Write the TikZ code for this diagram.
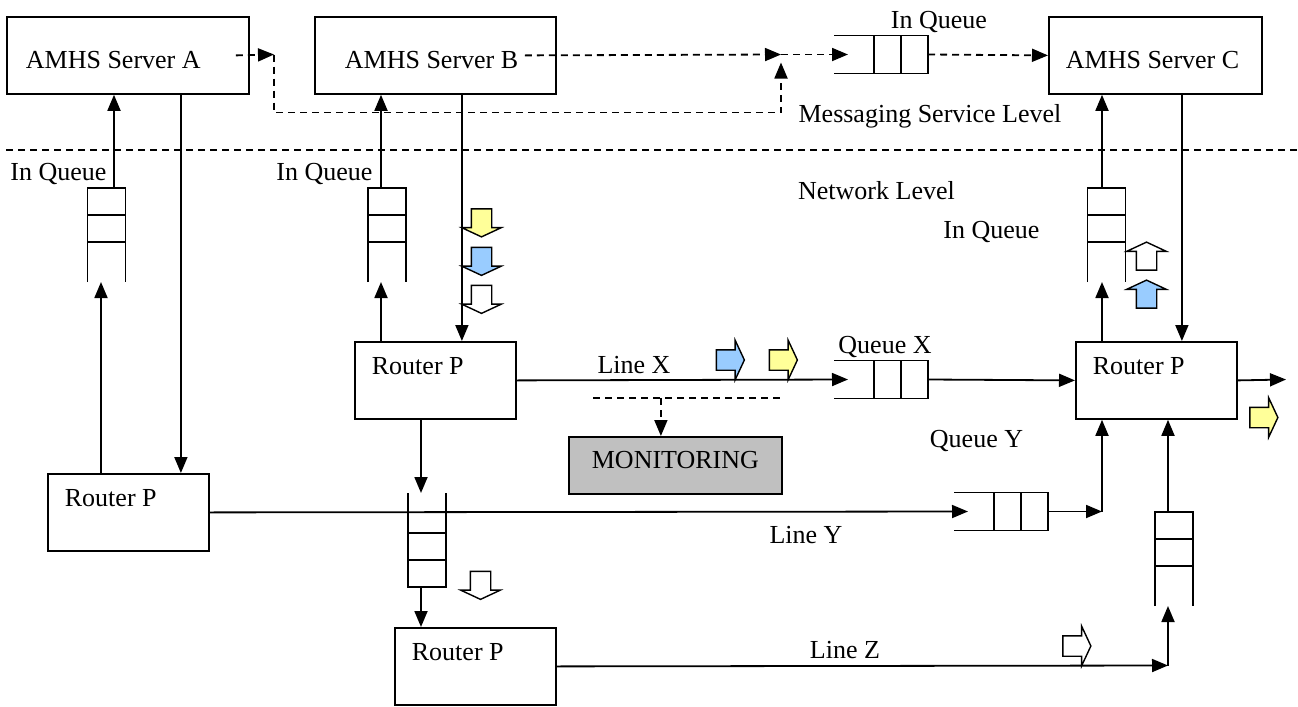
\documentclass[tikz,border=0pt]{standalone}
\usepackage{fontspec}
\setmainfont{Liberation Serif}
\usetikzlibrary{arrows.meta}
\usetikzlibrary{shapes.arrows}
\definecolor{msgyellow}{HTML}{FFFF99}
\definecolor{msgblue}{HTML}{99CCFF}
\definecolor{monfill}{HTML}{C0C0C0}
\tikzset{
	server/.style={draw, anchor=north west, inner ysep=0pt, align=flush left, text height=26pt, text depth=12.5pt},
	router/.style={draw, anchor=north west, inner ysep=0pt, inner xsep=8.5pt, text width=63.5pt, align=flush left, text height=16.5pt, text depth=22pt},
	monitor/.style={draw, fill=monfill, anchor=north west, inner sep=0pt, minimum width=106.5pt, text height=16pt, text depth=12.5pt},
	lbl/.style={anchor=base, inner sep=0pt},
	arr/.style={-{Triangle[length=8pt,width=6.5pt]}},
	dsh/.style={dash pattern=on 3.5pt off 2.5pt},
	fat/.style={shape=single arrow, draw, line width=0.7pt, inner sep=0pt, text height=9.5pt, text depth=0pt, minimum height=14pt, single arrow head extend=4.75pt, single arrow tip angle=130},
	queue/.pic={
		\draw (0,-19) -- (94,-19) -- (94,19) -- (0,19);
		\draw (40,-19) -- (40,19) (67,-19) -- (67,19);
		\coordinate (-open) at (0,0);
		\coordinate (-mouth) at (14,0);
		\coordinate (-closed) at (94,0);
	}
}
\begin{document}
\begin{tikzpicture}[x=0.5pt, y=-0.5pt, line width=0.9pt, font=\fontsize{13}{15}\selectfont]
	\useasboundingbox (0,0) rectangle (1298,707);

	% nodes
	\node[server, inner xsep=9.5pt, text width=102pt] (SA) at (6,16) {AMHS Server A};%
	\node[server, inner xsep=15pt, text width=90.5pt] (SB) at (314,16) {AMHS Server B};%
	\node[server, inner xsep=8.5pt, text width=89.5pt] (SC) at (1048,16) {AMHS Server C};%

	\node[router] (RL) at (47,473) {Router P};%
	\node[router] (RM) at (354,341) {Router P};%
	\node[router] (RB) at (394,627) {Router P};%
	\node[router] (RR) at (1075,341) {Router P};%

	\node[monitor] (MON) at (568,436) {MONITORING};%

	% queues
	\pic (QT) at (834,54.5) {queue};%
	\pic (QX) at (834,379.5) {queue};%
	\pic (QY) at (954,511.5) {queue};%
	\pic[rotate=90] (QA) at (106.5,282) {queue};%
	\pic[rotate=90] (QB) at (387,282) {queue};%
	\pic[rotate=90] (QC) at (1106.5,282) {queue};%
	\pic[rotate=-90] (QM) at (427,493) {queue};%
	\pic[rotate=90] (QR) at (1174,606) {queue};%

	% labels
	\node[lbl] (iqA) at (58.5,180) {In Queue};%
	\node[lbl] (iqB) at (324.5,180) {In Queue};%
	\node[lbl] (iqT) at (939,28) {In Queue};%
	\node[lbl] (iqC) at (991.5,238) {In Queue};%
	\node[lbl] (msl) at (930,122) {Messaging Service Level};%
	\node[lbl] (nwl) at (876.5,199) {Network Level};%
	\node[lbl] (lnX) at (634,373) {Line X};%
	\node[lbl] (qX) at (885,353) {Queue X};%
	\node[lbl] (qY) at (976.5,447) {Queue Y};%
	\node[lbl] (lnY) at (806,543) {Line Y};%
	\node[lbl] (lnZ) at (845,658) {Line Z};%

	% messages
	\node[fat, fill=msgyellow, rotate=-90] (mB1) at (481.5,220.5) {};%
	\node[fat, fill=msgblue, rotate=-90] (mB2) at (481.5,259) {};%
	\node[fat, fill=white, rotate=-90] (mB3) at (481.5,297) {};%
	\node[fat, fill=msgblue] (mX1) at (728,360) {};%
	\node[fat, fill=msgyellow] (mX2) at (781,360) {};%
	\node[fat, fill=white, rotate=90] (mC1) at (1146.5,258.5) {};%
	\node[fat, fill=msgblue, rotate=90] (mC2) at (1146.5,296.5) {};%
	\node[fat, fill=msgyellow] (mR1) at (1261.5,417.5) {};%
	\node[fat, fill=white, rotate=-90] (mM1) at (480.5,583) {};%
	\node[fat, fill=white] (mZ1) at (1074.5,646) {};%

	% junctions
	\coordinate (jA) at (274,54.5);
	\coordinate (jB) at (781,54.5);
	\coordinate (jY) at (1102,511.5);
	\coordinate (jZ) at (1168,665.5);
	\coordinate (out) at (1286,379.5);
	\coordinate (sepL) at (6,150);
	\coordinate (sepR) at (1298,150);
	\coordinate (mL) at (593,398);
	\coordinate (mR) at (781,398);

	% messaging level
	\draw[dsh] (sepL) -- (sepR);
	\draw[dsh, arr] ([xshift=-7pt]SA.east) -- (jA);
	\draw[dsh, arr] (jA) -- ++(0,58) -| ([yshift=-4pt]jB);
	\draw[dsh, arr] ([xshift=-16pt]SB.east) -- (jB);
	\draw[dsh, arr] (jB) -- (QT-mouth);
	\draw[dsh, arr] (QT-closed) -- (SC.west);

	% edges
	\draw[arr] ([xshift=3.75pt]QA-closed) -- ([xshift=3.75pt]QA-closed |- SA.south);
	\draw[arr] ([xshift=-2.75pt]QA-open |- RL.north) -- ([xshift=-2.75pt]QA-open);
	\draw[arr] ([xshift=26.5pt]SA.south) -- ([xshift=26.5pt]SA.south |- RL.north);

	\draw[arr] ([xshift=-3pt]QB-closed) -- ([xshift=-3pt]QB-closed |- SB.south);
	\draw[arr] ([xshift=-3pt]QB-open |- RM.north) -- ([xshift=-3pt]QB-open);
	\draw[arr] ([xshift=13.25pt]SB.south) -- ([xshift=13.25pt]SB.south |- RM.north);

	\draw[arr] ([xshift=-2.25pt]QC-closed) -- ([xshift=-2.25pt]QC-closed |- SC.south);
	\draw[arr] ([xshift=-2.25pt]QC-open |- RR.north) -- ([xshift=-2.25pt]QC-open);
	\draw[arr] ([xshift=13.25pt]SC.south) -- ([xshift=13.25pt]SC.south |- RR.north);

	\draw[arr] (RM.east) -- (QX-mouth);
	\draw[arr] (QX-closed) -- (RR.west);
	\draw[arr] (RR.east) -- (out);

	\draw[arr] ([xshift=-3pt]QM-open |- RM.south) -- ([xshift=-3pt]QM-open);
	\draw[arr] ([xshift=-3pt]QM-closed) -- ([xshift=-3pt]QM-closed |- RB.north);

	\draw[arr] (RL.east) -- (QY-mouth);
	\draw[arr] (QY-closed) -- (jY);
	\draw[arr] (jY) -- (jY |- RR.south);

	\draw[arr] (RB.east) -- (jZ);
	\draw[arr] (jZ) -- (jZ |- QR-open);
	\draw[arr] (jZ |- QR-closed) -- (jZ |- RR.south);

	% monitoring
	\draw[dsh] (mL) -- (mR);
	\draw[dsh, arr] ([xshift=-7.25pt]MON.north |- mL) -- ([xshift=-7.25pt]MON.north);
\end{tikzpicture}
\end{document}
